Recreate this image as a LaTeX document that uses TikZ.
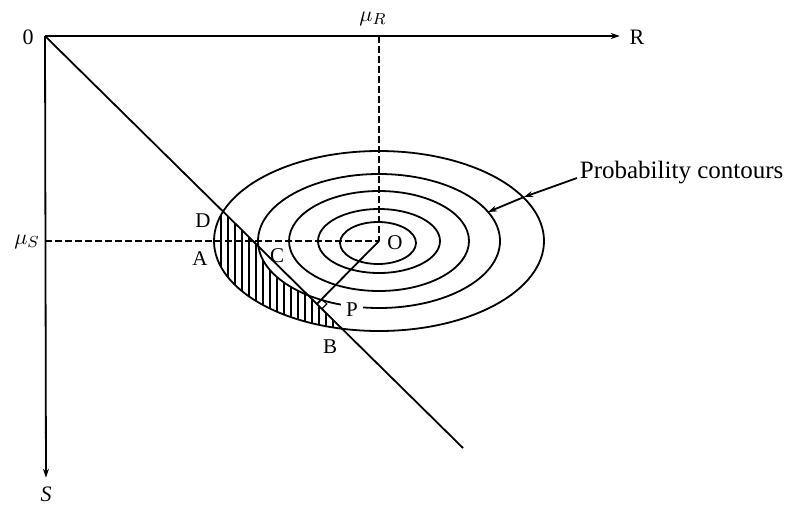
\documentclass[tikz,border=0pt]{standalone}
\usepackage{fontspec}
\setmainfont{Liberation Serif}
\usetikzlibrary{calc,arrows.meta}
\begin{document}
\begin{tikzpicture}[x=0.5pt,y=-0.5pt,
  >={Stealth[length=4.5pt,width=3pt]},
  line width=0.9pt,
  lbl/.style={inner sep=1pt,font=\fontsize{11}{13}\selectfont},
  ptlbl/.style={inner sep=1pt,font=\fontsize{10.5}{12}\selectfont},
  guide/.style={line width=0.8pt,dash pattern=on 3.5pt off 1.5pt},
  hatch/.style={line width=0.7pt}]
\useasboundingbox (0,0) rectangle (786,504);
% axes and limit state line
\coordinate (org) at (45,36);
\coordinate (lend) at (463,448);
\coordinate (ctr) at (379,241);
\node[lbl] (zero) at (28,37) {0};
\node[lbl] (rlab) at (637,37) {R};
\node[lbl] (slab) at (46,494) {\textit{S}};
\node[lbl] (murlab) at (373,19) {$\mu_R$};
\node[lbl] (muslab) at (27,242) {$\mu_S$};
% failure region inside outer contour
\begin{scope}
\clip (org) -- (lend) -- (45,448) -- cycle;
\clip (ctr) ellipse [x radius=82.5pt, y radius=45pt];
\foreach \x in {200,207,...,350}
  \draw[hatch] (\x,190) -- (\x,340);
\end{scope}
\fill[white] (ctr) ellipse [x radius=60.5pt, y radius=33.5pt];
% probability contours
\draw (378,243) ellipse [x radius=19pt, y radius=10.5pt];
\foreach \a/\b in {30.5/16,45/25,60.5/33.5,82.5/45}
  \draw (ctr) ellipse [x radius=\a pt, y radius=\b pt];
\draw[guide] (ctr |- org) -- (ctr);
\draw[guide] (ctr -| org) -- (ctr);
\draw[->,shorten >=3.5pt] (org) -- (rlab.west |- org);
\draw[->,shorten >=3pt] (org) -- (slab.north);
\draw (org) -- (lend);
% design point
\coordinate (foot) at ($(org)!(ctr)!(lend)$);
\coordinate (m1) at ($(foot)!3.5pt!(ctr)$);
\coordinate (m2) at ($(foot)!3.5pt!(lend)$);
\draw (ctr) -- (foot);
\draw[line width=0.6pt] (m1) -- ($(m1)+(m2)-(foot)$) -- (m2);
\node[ptlbl] (dlab) at (203,221) {D};
\node[ptlbl] (alab) at (200,259) {A};
\node[ptlbl] (clab) at (277,256) {C};
\node[ptlbl] (olab) at (395,243) {O};
\node[ptlbl,fill=white,inner sep=2.5pt] (plab) at (352,310) {P};
\node[ptlbl] (blab) at (330,347) {B};
\node[anchor=base west,inner sep=1pt,font=\fontsize{12.5}{15}\selectfont] (prob) at (577,178) {Probability contours};
\coordinate (c5) at (524,197);
\coordinate (c4) at (488,212);
\draw[->] (prob.base west) -- (c5);
\draw[->] (c5) -- (c4);
\end{tikzpicture}
\end{document}
